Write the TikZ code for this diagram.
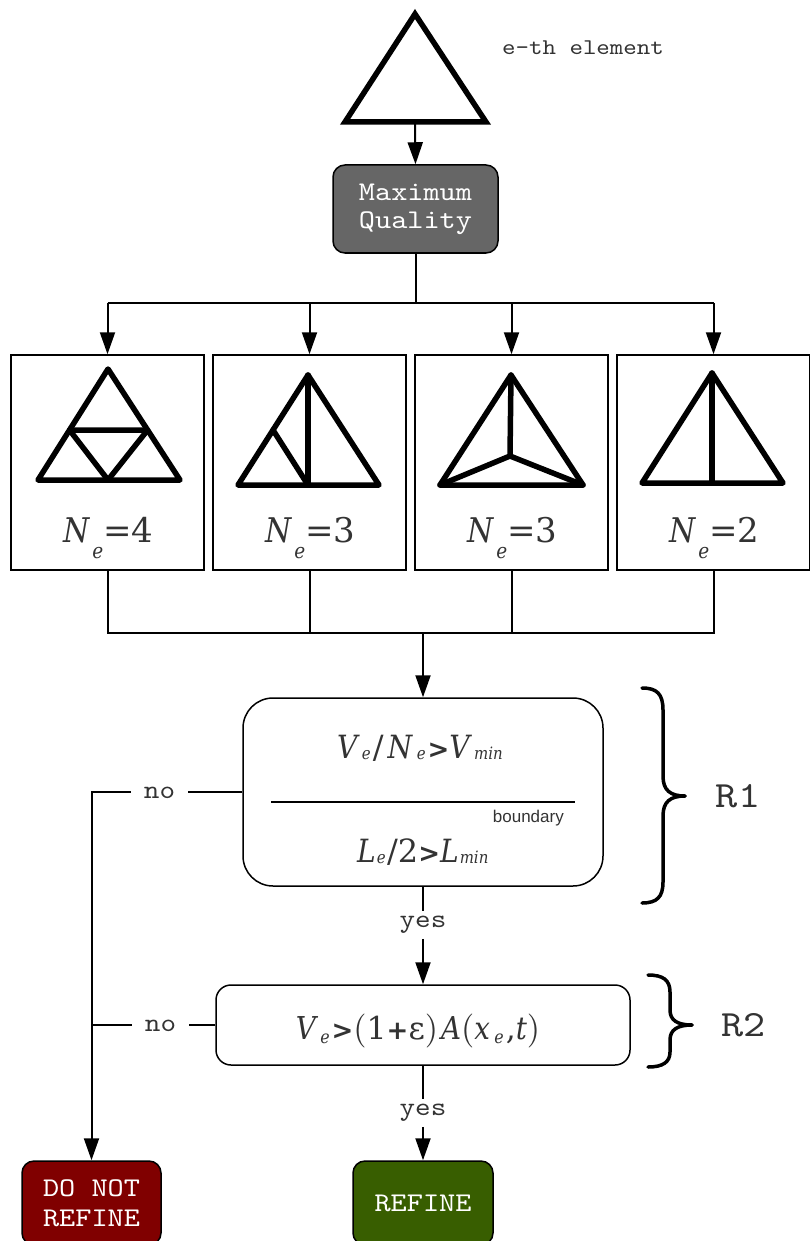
\documentclass[tikz,border=0pt]{standalone}
\usepackage{fontspec}
\usetikzlibrary{arrows.meta}

% typewriter face with Courier-like widths
\newfontfamily\cour{lmmono10-regular.otf}[FakeStretch=1.14]
% formula faces
\newfontfamily\dser{DejaVu Serif}[ItalicFeatures={FakeStretch=0.88}]
\newfontfamily\dsans{DejaVu Sans}
\newfontfamily\lsans{Liberation Sans}
\newfontfamily\lmr{lmroman10-regular.otf}

\newcommand\fsz[1]{\fontsize{#1}{#1}\selectfont}
% lowered italic subscript: drop, size, text
\newcommand\subl[3]{\kern2.5pt\raisebox{-#1}{\fsz{#2}\itshape #3}}
% spaced subscript for the rule formulas
\newcommand\subw[3]{\kern4.5pt\raisebox{-#1}{\fsz{#2}\itshape #3}\kern2pt}
% tighter subscript after an upright-edged letter
\newcommand\subn[3]{\kern1pt\raisebox{-#1}{\fsz{#2}\itshape #3}\kern1.5pt}
\newcommand\gtsym{{\dsans\bfseries\fsz{26}>}}
\newcommand\plussym{{\dsans\bfseries\fsz{26}+}}
\newcommand\lpar{{\lmr\fsz{34}(}}
\newcommand\rpar{{\lmr\fsz{34})}}

\definecolor{ink}{HTML}{333333}
\definecolor{mqgray}{HTML}{666666}
\definecolor{dnrred}{HTML}{800000}
\definecolor{refgreen}{HTML}{385E00}

\begin{document}
\begin{tikzpicture}[x=1pt,y=-1pt,
  conn/.style={line width=2pt},
  arr/.style={line width=2pt,-{Triangle[length=22pt,width=15pt]}},
  elem/.style={line width=5.5pt,line join=round,line cap=round},
  panel/.style={draw,line width=1.5pt,minimum width=193pt,minimum height=215pt,inner sep=0pt},
  rulebox/.style={draw,line width=1.5pt,inner sep=0pt},
  endbox/.style={draw,line width=1.5pt,rounded corners=12pt,text=white,align=center,inner sep=0pt,font=\cour\fsz{27}},
  lbl/.style={font=\cour\fsz{26},text=ink,inner xsep=13pt,inner ysep=5pt},
  brace/.style={line width=3.5pt,line cap=round},
  formula/.style={text=ink,inner sep=0pt,anchor=base}
]
\useasboundingbox (0,0) rectangle (810,1241);

% the element
\draw[line width=5.5pt] (345,122) -- (415,14) -- (486,122) -- cycle;
\coordinate (elemB) at (415,124);
\node[text=ink,font=\cour\fsz{22.5},anchor=base west,inner sep=0pt] (elabel) at (502,55) {e-th element};

% maximum quality
\node[draw,line width=1.5pt,fill=mqgray,rounded corners=12pt,minimum width=165pt,minimum height=88pt,
      text=white,align=center,font=\cour\fsz{27},inner sep=0pt] (mq) at (415.5,209) {Maximum\\[1pt]Quality};
\draw[arr] (elemB) -- (mq.north);

% subdivision candidates
\node[panel] (p1) at (107.5,462.5) {};
\node[panel] (p2) at (309.5,462.5) {};
\node[panel] (p3) at (511.5,462.5) {};
\node[panel] (p4) at (713.5,462.5) {};

\coordinate (split) at (415.5,303);
\draw[conn] (mq.south) -- (split);
\draw[conn] (p1.north |- split) -- (p4.north |- split);
\foreach \p in {p1,p2,p3,p4} \draw[arr] (\p.north |- split) -- (\p.north);

% four splittings
\draw[elem] (38,480) -- (108,369) -- (180,480) -- cycle;
\draw[elem] (69.5,430) -- (147.6,430) -- (108,480) -- cycle;

\draw[elem] (238,485) -- (308,375) -- (379,485) -- cycle;
\draw[elem] (308,375) -- (308,485);
\draw[elem] (273,430) -- (308,485);

\draw[elem] (440,485) -- (511,375) -- (583,485) -- cycle;
\draw[elem] (511,375) -- (510,456) -- (440,485);
\draw[elem] (510,456) -- (583,485);

\draw[elem] (642,483) -- (712,373) -- (783,483) -- cycle;
\draw[elem] (712,373) -- (712,483);

\node[formula] (n1) at (108.5,542) {\dser\fsz{34}\itshape N\subl{16pt}{21}{e}\upshape=4};
\node[formula] (n2) at (310.5,542) {\dser\fsz{34}\itshape N\subl{16pt}{21}{e}\upshape=3};
\node[formula] (n3) at (512.5,542) {\dser\fsz{34}\itshape N\subl{16pt}{21}{e}\upshape=3};
\node[formula] (n4) at (714.5,542) {\dser\fsz{34}\itshape N\subl{16pt}{21}{e}\upshape=2};

% merge
\coordinate (merge) at (423,633);
\draw[conn] (p1.south) -- (p1.south |- merge) -- (p4.south |- merge) -- (p4.south);
\draw[conn] (p2.south) -- (p2.south |- merge);
\draw[conn] (p3.south) -- (p3.south |- merge);

% rule R1
\node[rulebox,rounded corners=30pt,minimum width=360pt,minimum height=188pt] (r1) at (423,792) {};
\draw[arr] (merge) -- (r1.north);
\node[formula] (f1) at (421,758) {\dser\fsz{32}\itshape V\subw{1pt}{17}{e}\upshape/\kern4pt\itshape N\subw{1pt}{17}{e}\gtsym V\subw{1pt}{17}{min}};
\draw[line width=2pt] (271,802) -- (575,802);
\node[anchor=base east,font=\lsans\fsz{17},text=ink,inner sep=0pt] (bnd) at (564,822) {boundary};
\node[formula] (f2) at (423.5,862) {\dser\fsz{32}\itshape L\subn{1pt}{17}{e}\upshape/2\gtsym\itshape L\subn{1pt}{17}{min}};

% rule R2
\node[rulebox,rounded corners=15pt,minimum width=414pt,minimum height=80pt] (r2) at (423,1025) {};
\node[formula] (f3) at (418,1039) {\dser\fsz{31.5}\itshape V\subw{4pt}{18}{e}\gtsym\lpar\upshape 1\plussym ε\rpar\kern3pt\itshape A\lpar x\subw{4pt}{18}{e}\upshape,\itshape t\rpar};

% outcomes
\node[endbox,fill=dnrred,minimum width=139pt,minimum height=84pt] (dnr) at (91.5,1203) {DO NOT\\[3pt]REFINE};
\node[endbox,fill=refgreen,minimum width=140pt,minimum height=84pt] (ref) at (423,1203) {REFINE};

% connectors with labels
\node[lbl] (yes1) at (423,925) {yes};
\draw[conn] (r1.south) -- (yes1.north);
\draw[arr] (yes1.south) -- (r2.north);

\node[lbl] (yes2) at (423,1113) {yes};
\draw[conn] (r2.south) -- (yes2.north);
\draw[arr] (yes2.south) -- (ref.north);

\node[lbl] (no1) at (159.5,793) {no};
\draw[conn] (r1.west) -- (r1.west -| no1.east);
\draw[arr] (r1.west -| no1.west) -| (dnr.north);

\node[lbl] (no2) at (160.5,1026) {no};
\draw[conn] (r2.west) -- (r2.west -| no2.east);
\draw[conn] (r2.west -| no2.west) -- (r2.west -| dnr.north);

% braces
\draw[brace] (642,688) .. controls (657,688) and (663,694) .. (663,710) -- (663,776)
             .. controls (663,790) and (670,796) .. (685,796);
\draw[brace] (685,796) .. controls (670,796) and (663,802) .. (663,816) -- (663,882)
             .. controls (663,897) and (657,903) .. (642,903);
\node[font=\cour\fsz{37},text=ink,inner sep=0pt] (r1lbl) at (738,796) {R1};

\draw[brace] (648,975) .. controls (663,975) and (670,980) .. (670,992) -- (670,1010)
             .. controls (670,1020) and (677,1025) .. (692,1025);
\draw[brace] (692,1025) .. controls (677,1025) and (670,1030) .. (670,1040) -- (670,1052)
             .. controls (670,1062) and (663,1067) .. (648,1067);
\node[font=\cour\fsz{37},text=ink,inner sep=0pt] (r2lbl) at (743.5,1025) {R2};
\end{tikzpicture}
\end{document}
